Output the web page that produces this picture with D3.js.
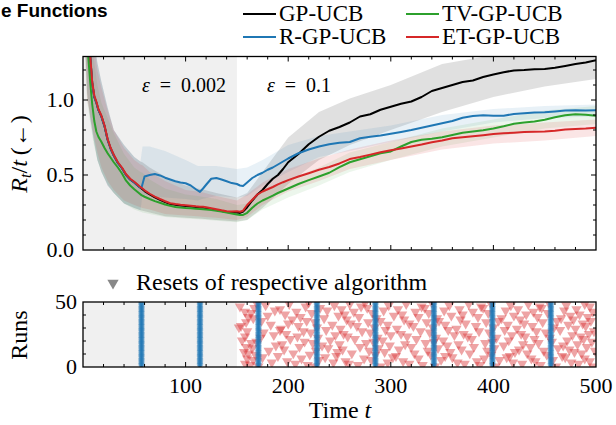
<!DOCTYPE html>
<html><head><meta charset="utf-8">
<script src="https://cdn.jsdelivr.net/npm/d3@7"></script>
<style>
body{margin:0;background:#fff;}
svg text{font-family:"Liberation Serif","Times New Roman",serif;fill:#000;}
</style></head><body>
<svg id="chart" width="616" height="425"></svg>
<script>
// ---------- data ----------
const seriesNames  = ["GP-UCB","R-GP-UCB","TV-GP-UCB","ET-GP-UCB"];
const seriesColors = ["#000000","#1f77b4","#2ca02c","#d62728"];

const timeGrid = [1,3,5,7,9,11,13,15,18,21,24,27,30,34,38,42,46,50,55,57,60,65,70,75,80,85,90,95,100,105,110,114,117,120,125,130,135,140,145,150,153,156,160,165,170,175,180,185,190,195,200,210,220,230,240,250,260,270,280,290,300,310,320,330,340,350,360,370,380,390,400,410,420,430,440,450,460,470,480,490,500];

const gpUcbMean = [2.49,1.79,1.46,1.29,1.11,1.02,0.983,0.934,0.889,0.824,0.735,0.675,0.63,0.58,0.545,0.5,0.47,0.45,0.42,0.41,0.393,0.37,0.351,0.335,0.32,0.307,0.301,0.296,0.293,0.29,0.286,0.284,0.283,0.28,0.274,0.267,0.26,0.254,0.251,0.25,0.247,0.256,0.285,0.33,0.37,0.4,0.44,0.475,0.5,0.54,0.585,0.64,0.705,0.755,0.795,0.82,0.85,0.89,0.905,0.935,0.955,0.975,0.99,1.02,1.06,1.08,1.1,1.12,1.13,1.153,1.17,1.185,1.197,1.2,1.205,1.207,1.215,1.227,1.24,1.25,1.265];
const rGpUcbMean = [2.49,1.79,1.46,1.29,1.11,1.02,0.983,0.934,0.889,0.824,0.735,0.675,0.63,0.58,0.545,0.5,0.47,0.45,0.42,0.415,0.49,0.5,0.507,0.497,0.482,0.47,0.458,0.45,0.445,0.43,0.405,0.387,0.41,0.435,0.475,0.48,0.47,0.458,0.446,0.44,0.43,0.427,0.45,0.48,0.5,0.515,0.535,0.55,0.57,0.59,0.61,0.645,0.67,0.69,0.705,0.715,0.72,0.745,0.755,0.764,0.775,0.787,0.8,0.815,0.83,0.845,0.86,0.882,0.893,0.898,0.895,0.895,0.907,0.912,0.916,0.918,0.924,0.93,0.931,0.93,0.932];
const tvGpUcbMean = [2.2,1.6,1.3,1.12,0.97,0.86,0.79,0.755,0.72,0.68,0.645,0.615,0.585,0.55,0.51,0.462,0.43,0.405,0.377,0.366,0.355,0.34,0.326,0.315,0.303,0.295,0.287,0.283,0.28,0.278,0.275,0.273,0.272,0.27,0.267,0.262,0.256,0.25,0.244,0.237,0.234,0.234,0.248,0.282,0.31,0.33,0.346,0.362,0.38,0.395,0.41,0.44,0.466,0.49,0.515,0.553,0.585,0.605,0.625,0.645,0.657,0.69,0.72,0.735,0.742,0.752,0.767,0.782,0.79,0.798,0.81,0.825,0.842,0.85,0.856,0.868,0.885,0.898,0.905,0.902,0.895];
const etGpUcbMean = [2.5,1.8,1.47,1.3,1.12,1.03,0.99,0.94,0.895,0.83,0.74,0.68,0.635,0.585,0.55,0.505,0.475,0.455,0.425,0.415,0.398,0.375,0.356,0.34,0.325,0.312,0.306,0.301,0.298,0.295,0.291,0.289,0.288,0.285,0.279,0.272,0.265,0.259,0.257,0.258,0.255,0.262,0.3,0.335,0.37,0.39,0.405,0.42,0.437,0.452,0.466,0.49,0.512,0.535,0.553,0.577,0.606,0.62,0.636,0.652,0.665,0.677,0.69,0.703,0.718,0.73,0.745,0.752,0.758,0.765,0.773,0.778,0.782,0.786,0.788,0.79,0.795,0.803,0.807,0.81,0.815];

const bandTimes = [1,4,7,10,14,18,24,30,40,50,56,58,65,80,100,112,116,130,150,160,175,200,230,260,300,350,400,450,500];
const gpUcbLo = [1.6,1.05,0.88,0.75,0.6,0.52,0.43,0.38,0.31,0.28,0.265,0.262,0.25,0.225,0.215,0.21,0.208,0.2,0.19,0.2,0.28,0.44,0.6,0.7,0.8,0.92,1.02,1.09,1.14];
const gpUcbHi = [3.0,2.2,1.7,1.45,1.25,1.12,0.95,0.8,0.7,0.62,0.59,0.585,0.55,0.49,0.43,0.41,0.405,0.38,0.35,0.38,0.52,0.75,0.92,1.01,1.1,1.24,1.3,1.33,1.38];
const rGpUcbLo = [1.6,1.05,0.88,0.75,0.6,0.52,0.43,0.38,0.31,0.28,0.265,0.37,0.36,0.35,0.34,0.33,0.34,0.36,0.35,0.36,0.43,0.52,0.62,0.66,0.72,0.79,0.85,0.88,0.89];
const rGpUcbHi = [3.0,2.2,1.7,1.45,1.25,1.12,0.95,0.8,0.7,0.62,0.59,0.69,0.69,0.66,0.6,0.56,0.56,0.56,0.54,0.55,0.6,0.7,0.76,0.79,0.83,0.9,0.94,0.96,0.97];
const tvGpUcbLo = [1.4,1.0,0.85,0.72,0.6,0.52,0.44,0.38,0.31,0.27,0.255,0.25,0.24,0.22,0.21,0.205,0.203,0.195,0.185,0.2,0.27,0.35,0.43,0.52,0.6,0.69,0.75,0.81,0.84];
const tvGpUcbHi = [2.8,2.0,1.55,1.3,1.1,0.98,0.88,0.78,0.64,0.55,0.52,0.515,0.47,0.41,0.37,0.36,0.355,0.34,0.3,0.31,0.4,0.47,0.55,0.65,0.72,0.81,0.87,0.93,0.96];
const etGpUcbLo = [1.5,1.0,0.9,0.78,0.65,0.55,0.46,0.4,0.33,0.3,0.285,0.28,0.27,0.24,0.23,0.225,0.222,0.215,0.2,0.22,0.3,0.39,0.46,0.54,0.6,0.67,0.71,0.73,0.76];
const etGpUcbHi = [2.9,2.1,1.7,1.4,1.2,1.08,0.93,0.8,0.68,0.6,0.57,0.565,0.52,0.46,0.4,0.39,0.385,0.36,0.33,0.37,0.45,0.54,0.61,0.67,0.73,0.79,0.83,0.85,0.87];

const changePoint = 150;

// resets: R-GP-UCB resets all runs at fixed times
const rGpUcbResets = [57,114,171,228,285,342,399,456];
const runCount = 50;
// ET-GP-UCB resets, per run (run index = position)
const etGpUcbResets = [
 [171,226,290,343,402,461,497],[163,219,268,331,387,446],[158,207,259,318,372,428,483],[184,244,297,365,419,476],
 [199,256,312,384,441,494],[166,230,281,349,406,458],[160,213,274,327,391,437,489],[175,236,302,360,413,470],
 [190,247,305,353,416,467],[168,221,285,339,398,452],[161,205,262,323,377,433,486],[157,248,294,358,421,479],
 [181,227,279,336,394,449,499],[196,253,308,369,425,474],[165,239,288,346,401,463],[159,211,270,320,381,436,491],
 [188,233,299,355,410,468],[194,250,314,366,429,482],[164,224,276,334,392,444],[169,216,283,342,399,457,496],
 [155,241,292,351,415,472],[202,265,325,379,440,488],[173,229,287,344,403,455],[158,209,258,316,375,431,485],
 [186,246,300,362,418,477],[198,254,310,371,427,493],[176,222,280,338,396,451],[160,215,272,329,386,442,498],
 [192,237,295,356,411,465],[193,251,306,364,423,480],[152,228,284,341,400,459],[154,210,267,322,383,438,490],
 [183,243,297,353,414,473],[200,261,318,373,430,487],[159,226,278,335,393,448],[174,218,290,347,405,462,495],
 [204,257,313,368,426,478],[166,235,286,345,408,466],[161,212,269,327,385,443,492],[180,249,303,359,420,475],
 [197,255,311,370,432,484],[164,223,282,337,395,453],[158,208,264,324,380,439,497],[187,238,293,352,412,469],
 [192,252,307,367,424,481],[167,231,277,333,390,447],[153,217,271,330,388,445,494],[178,245,298,357,417,471],
 [201,260,315,376,434,489],[169,220,275,340,397,454]
];

const xTickLabels = [100,200,300,400,500];
const yTopTickLabels = [0,0.5,1.0];
const yBotTickLabels = [0,50];

// ---------- drawing ----------
const svg = d3.select("#chart");
const x = d3.scaleLinear().domain([0,500]).range([83,596]);
const yTop = d3.scaleLinear().domain([0,1.29]).range([250,56.5]);
const yBot = d3.scaleLinear().domain([0,50]).range([367,302]);

const means = [gpUcbMean, rGpUcbMean, tvGpUcbMean, etGpUcbMean];
const los = [gpUcbLo, rGpUcbLo, tvGpUcbLo, etGpUcbLo];
const his = [gpUcbHi, rGpUcbHi, tvGpUcbHi, etGpUcbHi];
const bandOpacity = [0.12,0.1,0.09,0.12];

const defs = svg.append("defs");
function clip(id, yS){
  defs.append("clipPath").attr("id",id).append("rect")
    .attr("x",x(0)).attr("y",yS.range()[1]).attr("width",x(500)-x(0)).attr("height",yS.range()[0]-yS.range()[1]);
}
clip("clipTop", yTop); clip("clipBot", yBot);

// title (left part lies outside the figure in the original)
svg.append("text").attr("x",1).attr("y",17)
  .style("font-family","'Liberation Sans',Arial,sans-serif").style("font-weight","bold").style("font-size","19px")
  .text("e Functions");

// --- top panel ---
const gTop = svg.append("g").attr("clip-path","url(#clipTop)");
gTop.append("rect").attr("x",x(0)).attr("y",yTop.range()[1]).attr("width",x(changePoint)-x(0))
  .attr("height",yTop.range()[0]-yTop.range()[1]).attr("fill","#f0f0f0");

const area = d3.area().x((d,i)=>x(bandTimes[i])).y0(d=>yTop(d[0])).y1(d=>yTop(d[1]));
means.forEach((m,k)=>{
  const pts = los[k].map((lo,i)=>[lo,his[k][i]]);
  gTop.append("path").attr("d",area(pts)).attr("fill",seriesColors[k]).attr("fill-opacity",bandOpacity[k]).attr("stroke","none");
});
const line = d3.line().x((d,i)=>x(timeGrid[i])).y(d=>yTop(d));
means.forEach((m,k)=>{
  gTop.append("path").attr("d",line(m)).attr("fill","none").attr("stroke",seriesColors[k])
    .attr("stroke-width",2).attr("stroke-linejoin","round");
});

svg.append("text").attr("x",184).attr("y",92).attr("text-anchor","middle").style("font-size","20px")
  .html('<tspan font-style="italic">ε</tspan>\u2002=\u20020.002');
svg.append("text").attr("x",299).attr("y",92).attr("text-anchor","middle").style("font-size","20px")
  .html('<tspan font-style="italic">ε</tspan>\u2002=\u20020.1');

// --- bottom panel ---
const gBot = svg.append("g").attr("clip-path","url(#clipBot)");
gBot.append("rect").attr("x",x(0)).attr("y",yBot.range()[1]).attr("width",x(changePoint)-x(0))
  .attr("height",yBot.range()[0]-yBot.range()[1]).attr("fill","#f0f0f0");

const triRed = d3.symbol().type(d3.symbolTriangle).size(46);
const triBlue = d3.symbol().type(d3.symbolTriangle).size(20);
const redPts = [];
etGpUcbResets.forEach((arr,run)=>arr.forEach(t=>redPts.push([t,run])));
gBot.selectAll("path.red").data(redPts).enter().append("path")
  .attr("d",triRed()).attr("transform",d=>`translate(${x(d[0])},${yBot(d[1]+0.5)}) rotate(180)`)
  .attr("fill","#d62728").attr("fill-opacity",0.42);
const bluePts = [];
rGpUcbResets.forEach(t=>d3.range(runCount).forEach(run=>bluePts.push([t,run])));
gBot.selectAll("path.blue").data(bluePts).enter().append("path")
  .attr("d",triBlue()).attr("transform",d=>`translate(${x(d[0])},${yBot(d[1]+0.5)}) rotate(180)`)
  .attr("fill","#1f77b4").attr("fill-opacity",0.55);

// reset legend
svg.append("path").attr("d",d3.symbol().type(d3.symbolTriangle).size(55)())
  .attr("transform","translate(113,283) rotate(180)").attr("fill","#888");
svg.append("text").attr("x",136).attr("y",290).style("font-size","24px").text("Resets of respective algorithm");

// --- axes / ticks ---
function ticks(yS, opts){
  const [y0,y1] = yS.range();
  const g = svg.append("g");
  const major = opts.xMajor, minor = opts.xMinor;
  [[y0,-1],[y1,1]].forEach(([yy,dir])=>{
    major.forEach(t=>g.append("line").attr("x1",x(t)).attr("x2",x(t)).attr("y1",yy).attr("y2",yy+dir*5));
    minor.forEach(t=>g.append("line").attr("x1",x(t)).attr("x2",x(t)).attr("y1",yy).attr("y2",yy+dir*3));
  });
  [[x(0),1],[x(500),-1]].forEach(([xx,dir])=>{
    opts.yMajor.forEach(v=>g.append("line").attr("x1",xx).attr("x2",xx+dir*5).attr("y1",yS(v)).attr("y2",yS(v)));
    opts.yMinor.forEach(v=>g.append("line").attr("x1",xx).attr("x2",xx+dir*3).attr("y1",yS(v)).attr("y2",yS(v)));
  });
  g.selectAll("line").attr("stroke","#000").attr("stroke-width",1);
  svg.append("rect").attr("x",x(0)).attr("y",y1).attr("width",x(500)-x(0)).attr("height",y0-y1)
    .attr("fill","none").attr("stroke","#000").attr("stroke-width",1.3);
}
const xMajor = [100,200,300,400];
const xMinor = d3.range(20,500,20).filter(t=>t%100!==0);
ticks(yTop,{xMajor,xMinor,yMajor:[0.5,1.0],yMinor:[0.1,0.2,0.3,0.4,0.6,0.7,0.8,0.9,1.1,1.2]});
ticks(yBot,{xMajor,xMinor,yMajor:[],yMinor:[10,20,30,40]});

// tick labels
svg.selectAll("text.yt").data(yTopTickLabels).enter().append("text")
  .attr("x",74).attr("y",d=>yTop(d)+7).attr("text-anchor","end").style("font-size","22px").text(d=>d.toFixed(1));
svg.selectAll("text.yb").data(yBotTickLabels).enter().append("text")
  .attr("x",77).attr("y",d=>yBot(d)+7).attr("text-anchor","end").style("font-size","22px").text(d=>d);
svg.selectAll("text.xb").data(xTickLabels).enter().append("text")
  .attr("x",d=>x(d)).attr("y",393).attr("text-anchor","middle").style("font-size","22px").text(d=>d);

// axis labels
svg.append("text").attr("transform","translate(27,154) rotate(-90)").attr("text-anchor","middle").style("font-size","24px")
  .html('<tspan font-style="italic">R</tspan><tspan font-style="italic" font-size="16px" dy="4">t</tspan><tspan dy="-4">/</tspan><tspan font-style="italic">t</tspan>\u2009(←)');
svg.append("text").attr("transform","translate(27,335) rotate(-90)").attr("text-anchor","middle").style("font-size","24px").text("Runs");
svg.append("text").attr("x",340).attr("y",418).attr("text-anchor","middle").style("font-size","24px")
  .html('Time <tspan font-style="italic">t</tspan>');

// legend
const legPos = [[243,14],[243,37],[406,14],[406,37]];
seriesNames.forEach((n,k)=>{
  const [lx,ly] = legPos[k];
  svg.append("line").attr("x1",lx).attr("x2",lx+33).attr("y1",ly).attr("y2",ly)
    .attr("stroke",seriesColors[k]).attr("stroke-width",2.2);
  svg.append("text").attr("x",lx+36).attr("y",ly+7).style("font-size","23px").text(n);
});
</script>
</body></html>
